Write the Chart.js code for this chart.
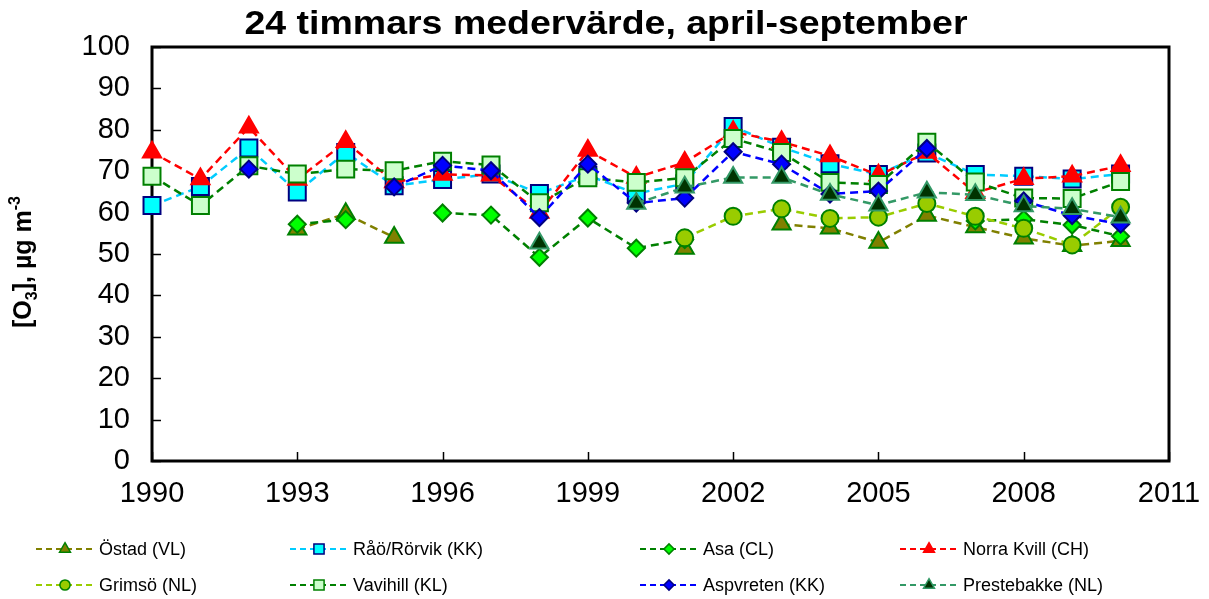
<!DOCTYPE html>
<html>
<head>
<meta charset="utf-8">
<script src="https://cdn.jsdelivr.net/npm/chart.js@4/dist/chart.umd.min.js"></script>
<style>
  html, body { margin: 0; padding: 0; background: #fff; }
</style>
</head>
<body>
<canvas id="ozon" width="1209" height="599"></canvas>
<script>
// 24 h mean ozone, April-September, per station
const years = [1990, 1991, 1992, 1993, 1994, 1995, 1996, 1997, 1998, 1999, 2000,
               2001, 2002, 2003, 2004, 2005, 2006, 2007, 2008, 2009, 2010];

const ostad       = [null, null, null, 56.0, 59.7, 54.0, null, null, null, null, null,
                     51.3, null, 57.2, 56.2, 52.8, 59.3, 56.5, 53.8, 52.0, 53.2];
const raoRorvik   = [61.7, 66.3, 75.6, 65.0, 74.5, 66.5, 68.0, 69.3, 64.6, 69.0, 64.6,
                     67.0, 80.8, 75.8, 71.8, 69.2, 74.4, 69.2, 68.8, 68.1, 69.3];
const asa         = [null, null, null, 57.2, 58.3, null, 59.9, 59.4, 49.2, 58.7, 51.4,
                     53.5, null, null, null, null, null, 58.0, 58.4, 57.0, 54.3];
const norraKvill  = [74.6, 68.1, 80.6, 68.0, 77.1, 67.4, 69.2, 69.0, 60.0, 75.0, 68.5,
                     72.1, 79.5, 77.1, 73.7, 69.0, 74.5, 64.8, 68.2, 68.8, 71.3];
const grimso      = [null, null, null, null, null, null, null, null, null, null, null,
                     53.9, 59.1, 60.9, 58.6, 58.9, 62.2, 59.1, 56.2, 52.2, 61.3];
const vavihill    = [68.8, 61.7, 71.3, 69.3, 70.5, 70.1, 72.4, 71.5, 62.4, 68.4, 67.3,
                     68.4, 77.9, 74.5, 67.3, 66.8, 77.0, 67.4, 63.5, 63.4, 67.5];
const aspvreten   = [null, null, 70.5, null, null, 66.2, 71.4, 70.1, 58.8, 71.7, 62.3,
                     63.5, 74.7, 71.7, 64.5, 65.2, 75.5, null, 62.8, 59.3, 57.2];
const prestebakke = [null, null, null, null, null, null, null, null, 52.6, null, 62.2,
                     66.1, 68.5, 68.5, 64.4, 61.8, 64.9, 64.3, 61.6, 60.9, 58.9];

const yTickValues = [0, 10, 20, 30, 40, 50, 60, 70, 80, 90, 100];
const xTickValues = [1990, 1993, 1996, 1999, 2002, 2005, 2008, 2011];

// legend order = series order (Excel draws later series on top)
const series = [
    { label: 'Östad (VL)',        values: ostad,       line: '#808000', fill: '#808000', edge: '#008000', style: 'triangle', r: 10.5 },
    { label: 'Råö/Rörvik (KK)',   values: raoRorvik,   line: '#00CCFF', fill: '#00FFFF', edge: '#000080', style: 'rect',     r: 12 },
    { label: 'Asa (CL)',          values: asa,         line: '#008000', fill: '#00FF00', edge: '#008000', style: 'rectRot',  r: 8.5 },
    { label: 'Norra Kvill (CH)',  values: norraKvill,  line: '#FF0000', fill: '#FF0000', edge: '#FF0000', style: 'triangle', r: 10.5 },
    { label: 'Grimsö (NL)',       values: grimso,      line: '#99CC00', fill: '#99CC00', edge: '#008000', style: 'circle',   r: 8.5 },
    { label: 'Vavihill (KL)',     values: vavihill,    line: '#008000', fill: '#CCFFCC', edge: '#008000', style: 'rect',     r: 12 },
    { label: 'Aspvreten (KK)',    values: aspvreten,   line: '#0000FF', fill: '#0000FF', edge: '#000080', style: 'rectRot',  r: 8.5 },
    { label: 'Prestebakke (NL)',  values: prestebakke, line: '#339966', fill: '#003300', edge: '#339966', style: 'triangle', r: 10.5 }
];

const FONT = "'Liberation Sans', Arial, sans-serif";

const datasets = series.map((s, i) => ({
    label: s.label,
    data: years.map((yr, k) => ({ x: yr, y: s.values[k] })),
    borderColor: s.line,
    borderWidth: 2.5,
    borderDash: [8, 5],
    pointStyle: s.style,
    pointRadius: s.r,
    pointBackgroundColor: s.fill,
    pointBorderColor: s.edge,
    pointBorderWidth: 2,
    fill: false,
    tension: 0,
    clip: false,
    order: series.length - i
}));

// axis box, inward tick marks, title, axis title and legend
const decorations = {
    id: 'decorations',
    beforeDatasetsDraw(chart) {
        const { ctx, chartArea: a, scales: { x, y } } = chart;
        ctx.save();
        ctx.strokeStyle = '#000';
        ctx.lineWidth = 1.5;
        yTickValues.forEach(v => {
            const py = Math.round(y.getPixelForValue(v)) + 0.5;
            ctx.beginPath();
            ctx.moveTo(a.left, py);
            ctx.lineTo(a.left + 9, py);
            ctx.stroke();
        });
        xTickValues.forEach(v => {
            const px = Math.round(x.getPixelForValue(v)) + 0.5;
            ctx.beginPath();
            ctx.moveTo(px, a.bottom);
            ctx.lineTo(px, a.bottom - 9);
            ctx.stroke();
        });
        ctx.lineWidth = 3;
        ctx.strokeRect(a.left, a.top, a.right - a.left, a.bottom - a.top);
        ctx.restore();
    },
    afterDraw(chart) {
        const { ctx } = chart;
        ctx.save();
        ctx.fillStyle = '#000';

        // title
        ctx.font = 'bold 34px ' + FONT;
        ctx.textAlign = 'center';
        ctx.textBaseline = 'alphabetic';
        const title = '24 timmars medervärde, april-september';
        const tw = ctx.measureText(title).width;
        ctx.save();
        ctx.translate(606, 34);
        ctx.scale(723 / tw, 1);
        ctx.fillText(title, 0, 0);
        ctx.restore();

        // y axis title: [O3], µg m-3 with sub/superscript
        const parts = [
            { t: '[O', size: 25, dy: 0 },
            { t: '3', size: 16, dy: 6 },
            { t: '], µg m', size: 25, dy: 0 },
            { t: '-3', size: 16, dy: -11 }
        ];
        let total = 0;
        parts.forEach(p => {
            ctx.font = 'bold ' + p.size + 'px ' + FONT;
            p.w = ctx.measureText(p.t).width;
            total += p.w;
        });
        ctx.save();
        ctx.translate(31, 262);
        ctx.rotate(-Math.PI / 2);
        ctx.textAlign = 'left';
        ctx.textBaseline = 'alphabetic';
        let cx = -total / 2;
        parts.forEach(p => {
            ctx.font = 'bold ' + p.size + 'px ' + FONT;
            ctx.fillText(p.t, cx, p.dy);
            cx += p.w;
        });
        ctx.restore();

        // legend, 4 columns x 2 rows
        const colX = [36, 290, 640, 900];
        const rowY = [549, 585];
        series.forEach((s, i) => {
            const x0 = colX[i % 4];
            const yy = rowY[Math.floor(i / 4)];
            ctx.save();
            ctx.strokeStyle = s.line;
            ctx.lineWidth = 2;
            ctx.setLineDash([6, 4]);
            ctx.beginPath();
            ctx.moveTo(x0, yy);
            ctx.lineTo(x0 + 57, yy);
            ctx.stroke();
            ctx.setLineDash([]);
            ctx.fillStyle = s.fill;
            ctx.strokeStyle = s.edge;
            ctx.lineWidth = 1.5;
            Chart.helpers.drawPoint(ctx, {
                pointStyle: s.style,
                radius: s.r * 0.6,
                rotation: 0,
                borderWidth: 1.5
            }, x0 + 29, yy);
            ctx.restore();
            ctx.font = '18px ' + FONT;
            ctx.textAlign = 'left';
            ctx.textBaseline = 'middle';
            ctx.fillStyle = '#000';
            ctx.fillText(s.label, x0 + 63, yy + 1);
        });
        ctx.restore();
    }
};

const config = {
    type: 'line',
    data: { datasets: datasets },
    options: {
        responsive: false,
        animation: false,
        events: [],
        layout: { padding: { top: 47, right: 40, left: 0, bottom: 0 } },
        plugins: {
            legend: { display: false },
            title: { display: false },
            tooltip: { enabled: false }
        },
        scales: {
            x: {
                type: 'linear',
                min: 1990,
                max: 2011,
                afterFit: s => { s.height = 138; s.paddingLeft = 0; s.paddingRight = 0; },
                afterBuildTicks: s => { s.ticks = xTickValues.map(v => ({ value: v })); },
                grid: { display: false },
                border: { display: false },
                ticks: {
                    color: '#000',
                    font: { family: FONT, size: 29 },
                    padding: 8,
                    maxRotation: 0,
                    callback: v => String(v)
                }
            },
            y: {
                min: 0,
                max: 100,
                afterFit: s => { s.width = 152; s.paddingTop = 0; s.paddingBottom = 0; },
                afterBuildTicks: s => { s.ticks = yTickValues.map(v => ({ value: v })); },
                grid: { display: false },
                border: { display: false },
                ticks: {
                    color: '#000',
                    font: { family: FONT, size: 29 },
                    padding: 14,
                    callback: v => String(v)
                }
            }
        }
    },
    plugins: [decorations]
};

const ozoneChart = new Chart(
    document.getElementById('ozon'),
    config
);
</script>
</body>
</html>
